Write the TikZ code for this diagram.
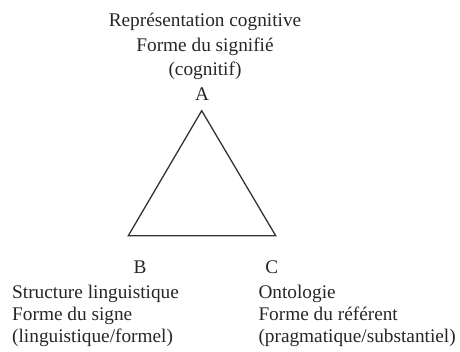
\documentclass[tikz,border=0pt]{standalone}
\usepackage{fontspec}
\setmainfont{Liberation Serif}
\begin{document}
\begin{tikzpicture}[x=1pt,y=-1pt,
  txt/.style={inner sep=0pt,anchor=base,text=black!85,font=\fontsize{19.3}{22}\selectfont},
  ltxt/.style={txt,anchor=base west},
  edge/.style={draw=black!80,line width=1.3pt,line join=miter}]
\useasboundingbox (0,0) rectangle (460,351);
% top labels
\node[txt] (t1) at (205,26.7) {Représentation cognitive};
\node[txt] (t2) at (205,51.5) {Forme du signifié};
\node[txt] (t3) at (205,75.5) {(cognitif)};
\node[txt] (la) at (202,100) {A};
% triangle vertices
\coordinate (A) at (201.7,110.7);
\coordinate (B) at (128.3,235.7);
\coordinate (C) at (275.7,235.7);
\draw[edge] (A) -- (B) -- (C) -- cycle;
% bottom left
\node[txt] (lb) at (140,273.3) {B};
\node[ltxt] (b1) at (12,298.3) {Structure linguistique};
\node[ltxt] (b2) at (12,320) {Forme du signe};
\node[ltxt] (b3) at (12,342) {(linguistique/formel)};
% bottom right
\node[txt] (lc) at (271.7,273.3) {C};
\node[ltxt] (c1) at (258.3,298.3) {Ontologie};
\node[ltxt] (c2) at (258.3,320) {Forme du référent};
\node[ltxt] (c3) at (258.3,342) {(pragmatique/substantiel)};
\end{tikzpicture}
\end{document}
